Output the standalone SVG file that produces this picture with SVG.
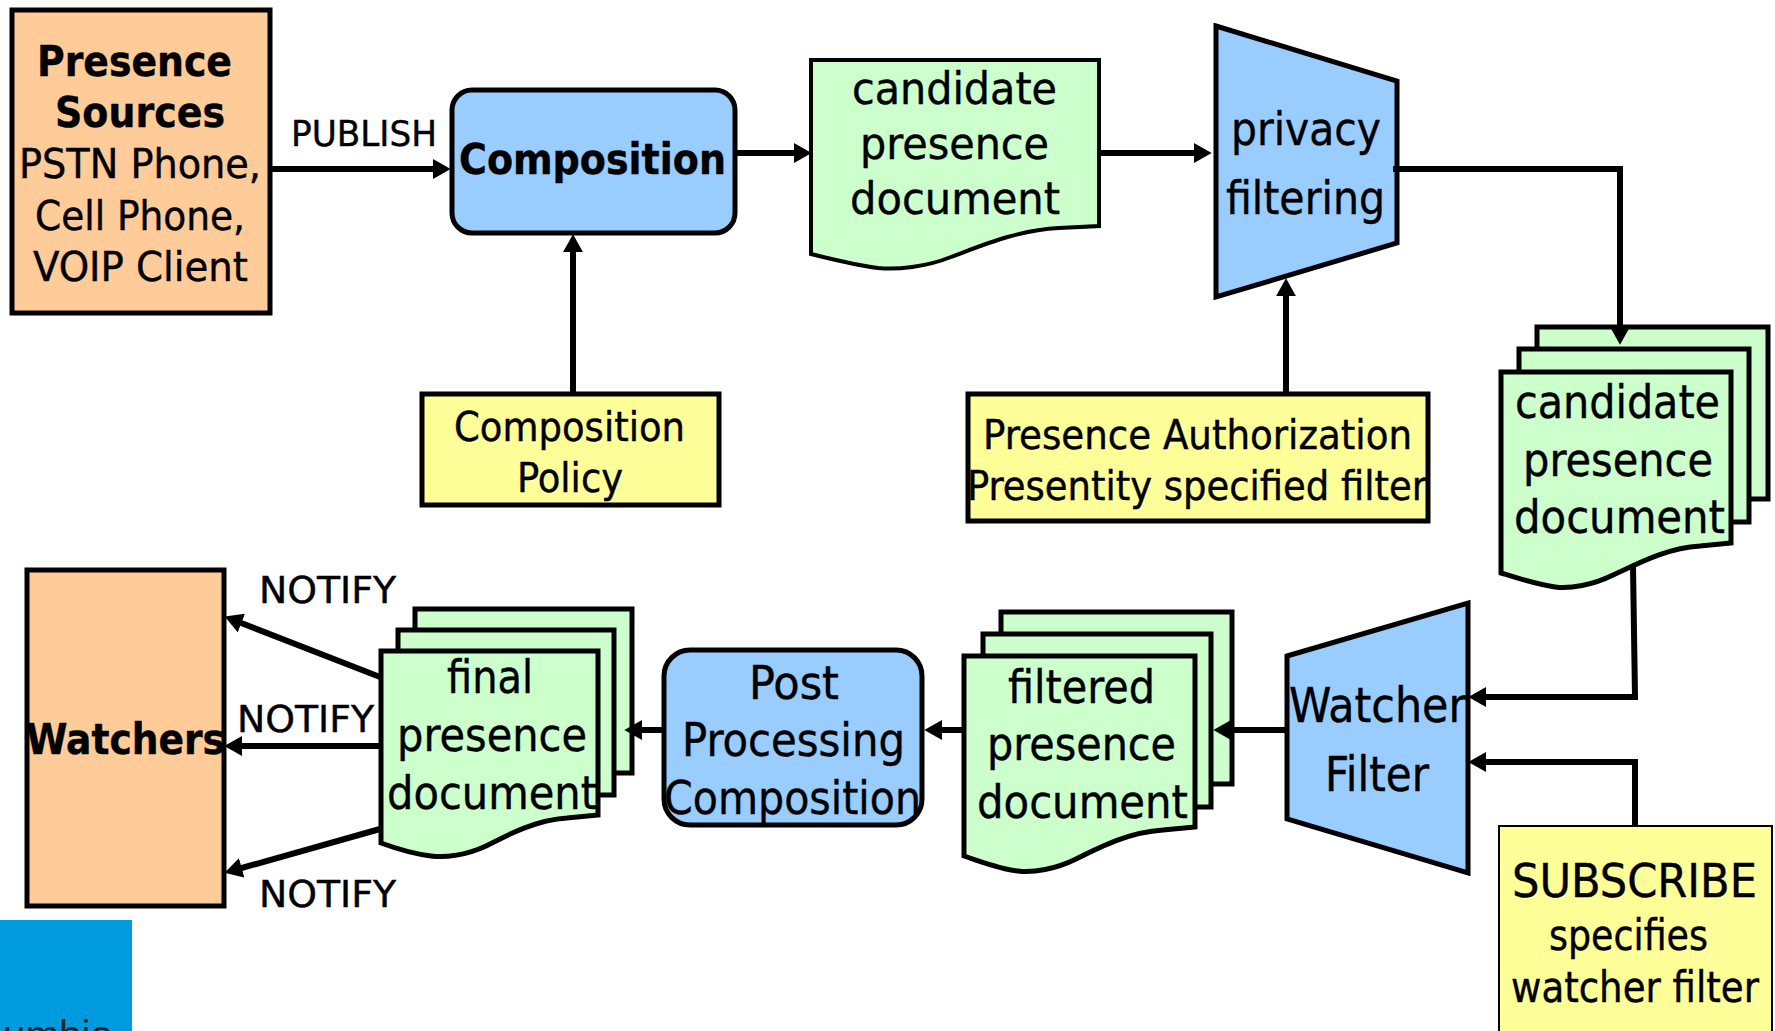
<svg xmlns="http://www.w3.org/2000/svg" width="1775" height="1031" viewBox="0 0 1775 1031">
<defs>
<marker id="ah" markerUnits="userSpaceOnUse" markerWidth="18" markerHeight="20" viewBox="0 0 16 18" refX="10" refY="9" orient="auto"><path d="M0,0 L16,9 L0,18 Z" fill="#000"/></marker>
</defs>
<style>
text{font-family:"DejaVu Sans Condensed","DejaVu Sans",sans-serif;font-stretch:condensed;fill:#000;stroke:#000;stroke-width:.4}
.b{font-weight:bold}
.s{stroke:#000;stroke-width:5}
.or{fill:#FFCC99}.bl{fill:#99CCFF}.ye{fill:#FFFF99}.gr{fill:#CCFFCC}
.c{fill:none;stroke:#000;stroke-width:6}
.a{marker-end:url(#ah)}
</style>
<rect width="1775" height="1031" fill="#fff"/>

<g id="presence-sources">
<rect class="or s" x="12" y="10" width="258" height="303"/>
<text class="b" x="37" y="76" font-size="42" textLength="195" lengthAdjust="spacingAndGlyphs">Presence</text>
<text class="b" x="55" y="127" font-size="42" textLength="170" lengthAdjust="spacingAndGlyphs">Sources</text>
<text x="19" y="178" font-size="40" textLength="242" lengthAdjust="spacingAndGlyphs">PSTN Phone,</text>
<text x="35" y="230" font-size="40" textLength="210" lengthAdjust="spacingAndGlyphs">Cell Phone,</text>
<text x="33" y="281" font-size="40" textLength="215" lengthAdjust="spacingAndGlyphs">VOIP Client</text>
</g>
<g id="composition">
<rect class="bl s" x="452" y="90" width="283" height="143" rx="20"/>
<text class="b" x="459" y="174" font-size="42" textLength="267" lengthAdjust="spacingAndGlyphs">Composition</text>
</g>
<g id="composition-policy">
<rect class="ye s" x="422" y="394" width="297" height="111"/>
<text x="454" y="441" font-size="40" textLength="231" lengthAdjust="spacingAndGlyphs">Composition</text>
<text x="517" y="492" font-size="40" textLength="106" lengthAdjust="spacingAndGlyphs">Policy</text>
</g>
<g id="candidate-doc">
<path class="gr" d="M811,60H1099V226L1059,228C1018,230 983,245 951,257C926,267 897,270 878,268C855,265 835,260 811,254Z" style="stroke:#000;stroke-width:4"/>
<text x="852" y="104" font-size="44" textLength="205" lengthAdjust="spacingAndGlyphs">candidate</text>
<text x="860" y="159" font-size="44" textLength="189" lengthAdjust="spacingAndGlyphs">presence</text>
<text x="850" y="214" font-size="44" textLength="210" lengthAdjust="spacingAndGlyphs">document</text>
</g>
<g id="privacy-filtering">
<path class="bl s" d="M1216,26L1397,81V243L1216,297Z"/>
<text x="1231" y="145" font-size="46" textLength="150" lengthAdjust="spacingAndGlyphs">privacy</text>
<text x="1226" y="214" font-size="46" textLength="159" lengthAdjust="spacingAndGlyphs">filtering</text>
</g>
<g id="presence-authorization">
<rect class="ye s" x="968" y="394" width="460" height="127"/>
<text x="983" y="449" font-size="40" textLength="429" lengthAdjust="spacingAndGlyphs">Presence Authorization</text>
<text x="967" y="500" font-size="40" textLength="460" lengthAdjust="spacingAndGlyphs">Presentity specified filter</text>
</g>
<g id="candidate-stack">
<rect class="gr s" x="1537" y="327" width="231" height="172"/>
<rect class="gr s" x="1519" y="349" width="230" height="173"/>
<path class="gr s" d="M1501,372H1731V543L1700,546C1667,548 1639,563 1613,575C1593,585 1570,589 1555,587C1535,584 1520,579 1501,573Z"/>
<text x="1515" y="418" font-size="46" textLength="205" lengthAdjust="spacingAndGlyphs">candidate</text>
<text x="1523" y="476" font-size="46" textLength="190" lengthAdjust="spacingAndGlyphs">presence</text>
<text x="1514" y="533" font-size="46" textLength="211" lengthAdjust="spacingAndGlyphs">document</text>
</g>
<g id="watcher-filter">
<path class="bl s" d="M1287,656L1468,603V873L1287,819Z"/>
<text x="1289" y="722" font-size="48" textLength="177" lengthAdjust="spacingAndGlyphs">Watcher</text>
<text x="1325" y="791" font-size="48" textLength="104" lengthAdjust="spacingAndGlyphs">Filter</text>
</g>
<g id="subscribe">
<rect class="ye" x="1499" y="826" width="273" height="215" style="stroke:#000;stroke-width:2"/>
<text x="1512" y="897" font-size="46" textLength="245" lengthAdjust="spacingAndGlyphs">SUBSCRIBE</text>
<text x="1549" y="950" font-size="42" textLength="159" lengthAdjust="spacingAndGlyphs">specifies</text>
<text x="1511" y="1002" font-size="42" textLength="248" lengthAdjust="spacingAndGlyphs">watcher filter</text>
</g>
<g id="filtered-stack">
<rect class="gr s" x="1001" y="612" width="231" height="172"/>
<rect class="gr s" x="983" y="634" width="228" height="173"/>
<path class="gr s" d="M964,656H1195V827L1163,830C1130,832 1102,846 1076,859C1056,869 1033,873 1018,871C1000,869 985,863 964,856Z"/>
<text x="1008" y="703" font-size="46" textLength="147" lengthAdjust="spacingAndGlyphs">filtered</text>
<text x="987" y="760" font-size="46" textLength="189" lengthAdjust="spacingAndGlyphs">presence</text>
<text x="977" y="818" font-size="46" textLength="211" lengthAdjust="spacingAndGlyphs">document</text>
</g>
<g id="post-processing">
<rect class="bl s" x="664" y="650" width="258" height="175" rx="26"/>
<text x="749" y="699" font-size="46" textLength="90" lengthAdjust="spacingAndGlyphs">Post</text>
<text x="682" y="756" font-size="46" textLength="223" lengthAdjust="spacingAndGlyphs">Processing</text>
<text x="664" y="814" font-size="46" textLength="257" lengthAdjust="spacingAndGlyphs">Composition</text>
</g>
<g id="final-stack">
<rect class="gr s" x="415" y="609" width="217" height="164"/>
<rect class="gr s" x="398" y="630" width="216" height="165"/>
<path class="gr s" d="M381,651H598V815L567,818C537,820 511,833 486,846C467,855 445,858 431,856C415,854 400,850 381,843Z"/>
<text x="447" y="693" font-size="46" textLength="86" lengthAdjust="spacingAndGlyphs">final</text>
<text x="397" y="751" font-size="46" textLength="190" lengthAdjust="spacingAndGlyphs">presence</text>
<text x="387" y="809" font-size="46" textLength="210" lengthAdjust="spacingAndGlyphs">document</text>
</g>
<g id="watchers">
<rect class="or s" x="27" y="570" width="197" height="336"/>
<text class="b" x="26" y="754" font-size="42" textLength="199" lengthAdjust="spacingAndGlyphs">Watchers</text>
</g>
<g id="connectors">
<path class="c a" d="M270,169H444"/>
<path class="c a" d="M573,393V241"/>
<path class="c a" d="M735,153H805"/>
<path class="c a" d="M1099,153H1205"/>
<path class="c a" d="M1286,392V285"/>
<path class="c a" d="M1393,169H1620V338"/>
<path class="c a" d="M1633,566L1635,697H1475"/>
<path class="c a" d="M1635,825V762H1475"/>
<path class="c a" d="M1286,730H1220"/>
<path class="c a" d="M962,730H931"/>
<path class="c a" d="M664,730H631"/>
<path class="c a" d="M380,677L231,619"/>
<path class="c a" d="M380,746H231"/>
<path class="c a" d="M380,829L231,871"/>
</g>
<g id="labels">
<text x="291" y="146" font-size="36" textLength="146" lengthAdjust="spacingAndGlyphs">PUBLISH</text>
<text x="259" y="603" font-size="38" textLength="137" lengthAdjust="spacingAndGlyphs">NOTIFY</text>
<text x="237" y="732" font-size="38" textLength="137" lengthAdjust="spacingAndGlyphs">NOTIFY</text>
<text x="259" y="907" font-size="38" textLength="137" lengthAdjust="spacingAndGlyphs">NOTIFY</text>
</g>
<g id="logo">
<rect x="0" y="920" width="132" height="111" fill="#009ADE"/>
<text x="3" y="1049" font-size="40" textLength="110" lengthAdjust="spacingAndGlyphs" style="fill:#222;stroke:none;font-family:'Liberation Sans',sans-serif;font-stretch:normal">umbia</text>
</g>
</svg>
